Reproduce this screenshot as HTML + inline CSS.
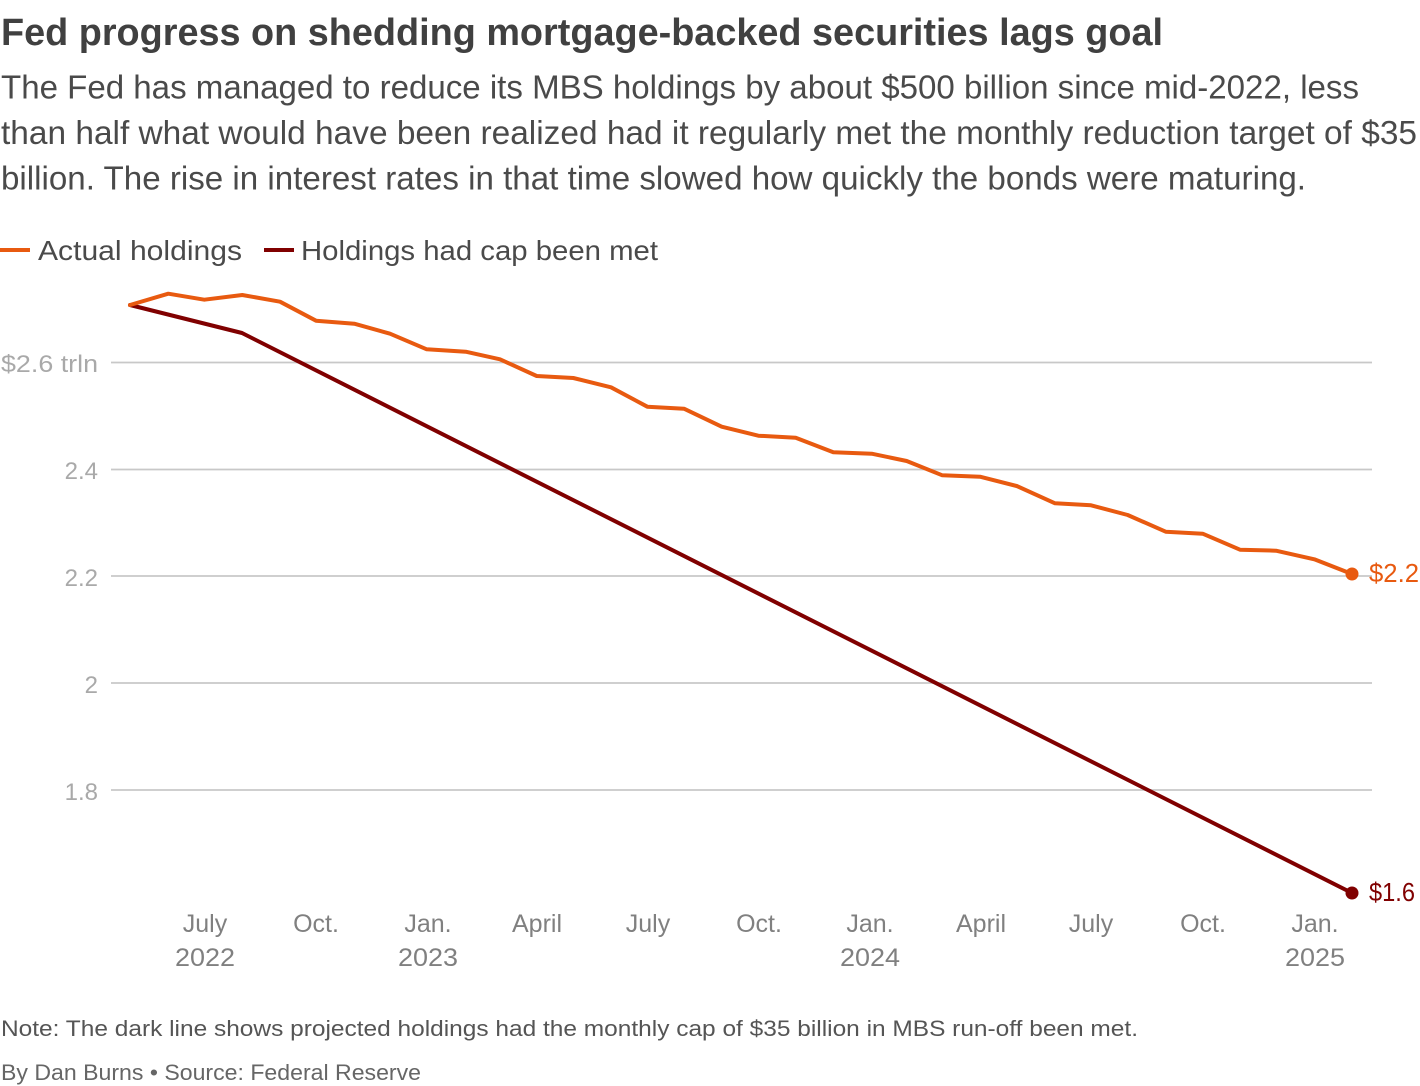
<!DOCTYPE html>
<html><head><meta charset="utf-8"><style>
html,body{margin:0;padding:0;background:#fff;}
svg{display:block;}
text{font-family:"Liberation Sans",Arial,sans-serif;}
</style></head><body>
<svg width="1420" height="1086" viewBox="0 0 1420 1086" xmlns="http://www.w3.org/2000/svg">
<rect width="1420" height="1086" fill="#fff"/>
<text x="1" y="45" font-size="38" font-weight="bold" fill="#404040" textLength="1162" lengthAdjust="spacingAndGlyphs">Fed progress on shedding mortgage-backed securities lags goal</text>
<g font-size="33" fill="#4a4a4a">
<text x="1" y="98.5" textLength="1358" lengthAdjust="spacingAndGlyphs">The Fed has managed to reduce its MBS holdings by about $500 billion since mid-2022, less</text>
<text x="1" y="144" textLength="1416" lengthAdjust="spacingAndGlyphs">than half what would have been realized had it regularly met the monthly reduction target of $35</text>
<text x="1" y="189.5" textLength="1305" lengthAdjust="spacingAndGlyphs">billion. The rise in interest rates in that time slowed how quickly the bonds were maturing.</text>
</g>
<line x1="0" y1="250" x2="30" y2="250" stroke="#e85a10" stroke-width="4"/>
<text x="38" y="260" font-size="28" fill="#4a4a4a" textLength="204" lengthAdjust="spacingAndGlyphs">Actual holdings</text>
<line x1="264" y1="250" x2="294" y2="250" stroke="#800000" stroke-width="4"/>
<text x="301" y="260" font-size="28" fill="#4a4a4a" textLength="357" lengthAdjust="spacingAndGlyphs">Holdings had cap been met</text>
<g stroke="#c8c8c8" stroke-width="1.8">
<line x1="111" y1="362.5" x2="1372" y2="362.5"/>
<line x1="111" y1="469.5" x2="1372" y2="469.5"/>
<line x1="111" y1="576" x2="1372" y2="576"/>
<line x1="111" y1="683" x2="1372" y2="683"/>
<line x1="111" y1="790" x2="1372" y2="790"/>
</g>
<g font-size="24" fill="#a9a9a9" text-anchor="end">
<text x="98" y="372" textLength="97" lengthAdjust="spacingAndGlyphs">$2.6 trln</text>
<text x="98" y="479">2.4</text>
<text x="98" y="586">2.2</text>
<text x="98" y="693">2</text>
<text x="98" y="800">1.8</text>
</g>
<g font-size="25" fill="#808080" text-anchor="middle">
<text x="205" y="932">July</text>
<text x="316" y="932">Oct.</text>
<text x="428" y="932">Jan.</text>
<text x="537" y="932">April</text>
<text x="648" y="932">July</text>
<text x="759" y="932">Oct.</text>
<text x="870" y="932">Jan.</text>
<text x="981" y="932">April</text>
<text x="1091" y="932">July</text>
<text x="1203" y="932">Oct.</text>
<text x="1315" y="932">Jan.</text>
<text x="205" y="966" textLength="60" lengthAdjust="spacingAndGlyphs">2022</text>
<text x="428" y="966" textLength="60" lengthAdjust="spacingAndGlyphs">2023</text>
<text x="870" y="966" textLength="60" lengthAdjust="spacingAndGlyphs">2024</text>
<text x="1315" y="966" textLength="60" lengthAdjust="spacingAndGlyphs">2025</text>
</g>
<polyline fill="none" stroke="#800000" stroke-width="4" stroke-linejoin="round" stroke-linecap="round" points="130,305 242,333 1352,893"/>
<polyline fill="none" stroke="#e85a10" stroke-width="4" stroke-linejoin="round" stroke-linecap="round" points="130,305 168.3,293.7 204.3,299.7 242.3,295 280,301.7 316,320.7 354.3,323.7 390,333.7 426.7,349.3 465.7,351.7 500,359.3 536.7,376 573.3,378 611,387.3 647.3,406.7 684,408.7 721.7,426.7 758.3,435.7 795.7,437.7 833.3,452.3 871.7,453.7 906.7,461 942.3,475.3 980,476.7 1016.7,486 1055,503.3 1091,505.3 1127.7,515 1165.7,531.7 1202.7,533.7 1240,549.7 1276,550.7 1314.3,559.3 1352,574"/>
<circle cx="1352" cy="574" r="6.5" fill="#e85a10"/>
<circle cx="1352" cy="893" r="6.5" fill="#800000"/>
<text x="1369" y="582" font-size="26" fill="#e85a10" textLength="50" lengthAdjust="spacingAndGlyphs">$2.2</text>
<text x="1369" y="901" font-size="26" fill="#800000" textLength="46" lengthAdjust="spacingAndGlyphs">$1.6</text>
<text x="1" y="1036" font-size="22" fill="#555" textLength="1137" lengthAdjust="spacingAndGlyphs">Note: The dark line shows projected holdings had the monthly cap of $35 billion in MBS run-off been met.</text>
<text x="1" y="1080" font-size="22" fill="#666" textLength="420" lengthAdjust="spacingAndGlyphs">By Dan Burns • Source: Federal Reserve</text>
</svg>
</body></html>
